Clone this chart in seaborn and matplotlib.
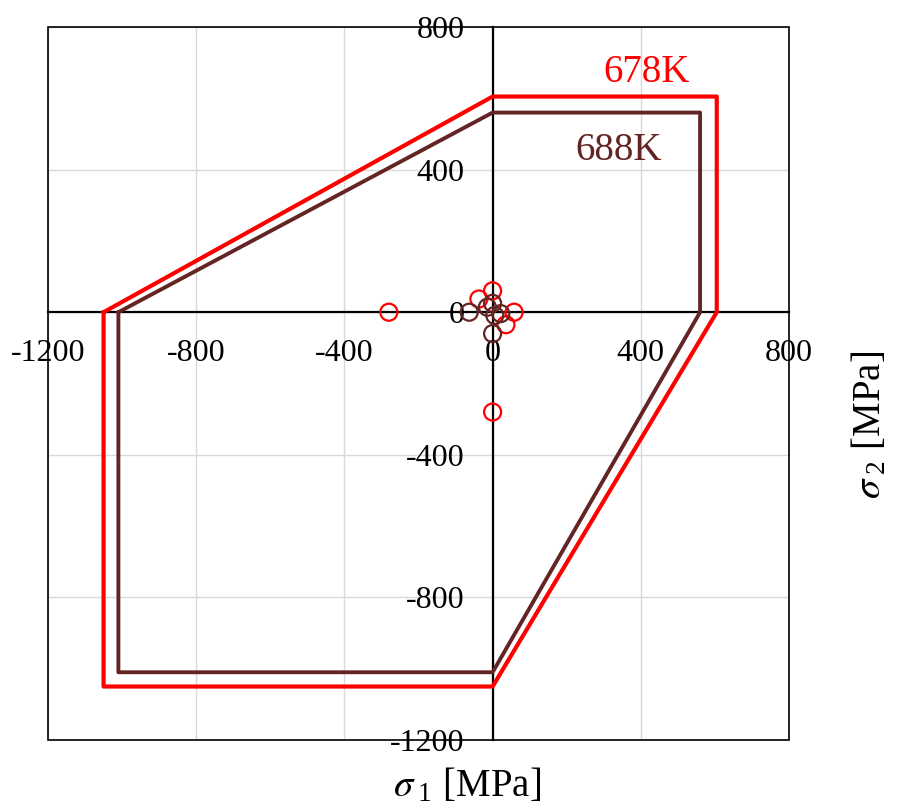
import matplotlib
matplotlib.use("Agg")
import matplotlib.pyplot as plt
from matplotlib.patches import Rectangle
import seaborn as sns
import pandas as pd

# Failure envelopes (principal stresses, MPa)
env_678_s1 = [-1050, 0, 605, 605, 0, -1050, -1050]
env_678_s2 = [0, 605, 605, 0, -1050, -1050, 0]
env_688_s1 = [-1010, 0, 560, 560, 0, -1010, -1010]
env_688_s2 = [0, 560, 560, 0, -1010, -1010, 0]

# Measured stress states
pts_678_s1 = [-280, 0, 0, -37, 58, 36]
pts_678_s2 = [0, -280, 60, 37, 0, -35]
pts_688_s1 = [-63, 0, -14, 0, 22, 6]
pts_688_s2 = [0, -60, 14, 25, -4, -9]

ticks = [-1200, -800, -400, 0, 400, 800]
tick_labels = ["-1200", "-800", "-400", "0", "400", "800"]

RED = "#ff0000"
BROWN = "#632523"

sns.set_theme(style="white")
plt.rcParams["font.family"] = ["Liberation Serif", "DejaVu Serif"]
plt.rcParams["mathtext.fontset"] = "stix"
plt.rcParams["text.color"] = "black"
plt.rcParams["axes.labelcolor"] = "black"
plt.rcParams["xtick.color"] = "black"
plt.rcParams["ytick.color"] = "black"

fig = plt.figure(figsize=(8.97, 8.09), dpi=100)
ax = fig.add_axes([0.0535, 0.0853, 0.8261, 0.8813])

df678 = pd.DataFrame({"s1": env_678_s1, "s2": env_678_s2})
df688 = pd.DataFrame({"s1": env_688_s1, "s2": env_688_s2})
sns.lineplot(data=df678, x="s1", y="s2", sort=False, estimator=None,
             color=RED, linewidth=3.0, ax=ax, zorder=4)
sns.lineplot(data=df688, x="s1", y="s2", sort=False, estimator=None,
             color=BROWN, linewidth=2.8, ax=ax, zorder=4)

sns.scatterplot(x=pts_678_s1, y=pts_678_s2, marker="o", s=150,
                facecolors="none", edgecolors=RED, linewidth=1.6, ax=ax, zorder=5)
sns.scatterplot(x=pts_688_s1, y=pts_688_s2, marker="o", s=150,
                facecolors="none", edgecolors=BROWN, linewidth=1.6, ax=ax, zorder=5)

ax.set_xlim(-1200, 800)
ax.set_ylim(-1200, 800)
ax.set_xticks(ticks)
ax.set_yticks(ticks)
ax.set_xticklabels(tick_labels)
ax.set_yticklabels(tick_labels)
ax.tick_params(axis="both", length=0, labelsize=23, labelcolor="black")
ax.tick_params(axis="x", pad=19)
ax.tick_params(axis="y", pad=20)

ax.grid(True, color="#d9d9d9", linewidth=1.0, zorder=0)
ax.set_axisbelow(True)

# Coordinate axes through the origin
ax.spines["left"].set_position(("data", 0))
ax.spines["bottom"].set_position(("data", 0))
for side in ["left", "bottom"]:
    ax.spines[side].set_linewidth(1.6)
    ax.spines[side].set_color("black")
    ax.spines[side].set_zorder(3)
for side in ["top", "right"]:
    ax.spines[side].set_visible(False)

# Frame around the plot area
ax.add_patch(Rectangle((0, 0), 1, 1, transform=ax.transAxes, fill=False,
                       edgecolor="black", linewidth=1.2, zorder=3, clip_on=False))

ax.set_xlabel(r"$\sigma_{\;\mathregular{1}}$ [MPa]", fontsize=28)
ax.set_ylabel(r"$\sigma_{\;\mathregular{2}}$ [MPa]", fontsize=28)
ax.yaxis.set_label_position("right")
ax.xaxis.set_label_coords(0.566, -0.039)
ax.yaxis.set_label_coords(1.085, 0.442)

ax.text(416, 673, "678K", color=RED, fontsize=28, ha="center", va="center")
ax.text(340, 454, "688K", color=BROWN, fontsize=28, ha="center", va="center")

fig.savefig("out.png", dpi=100)
